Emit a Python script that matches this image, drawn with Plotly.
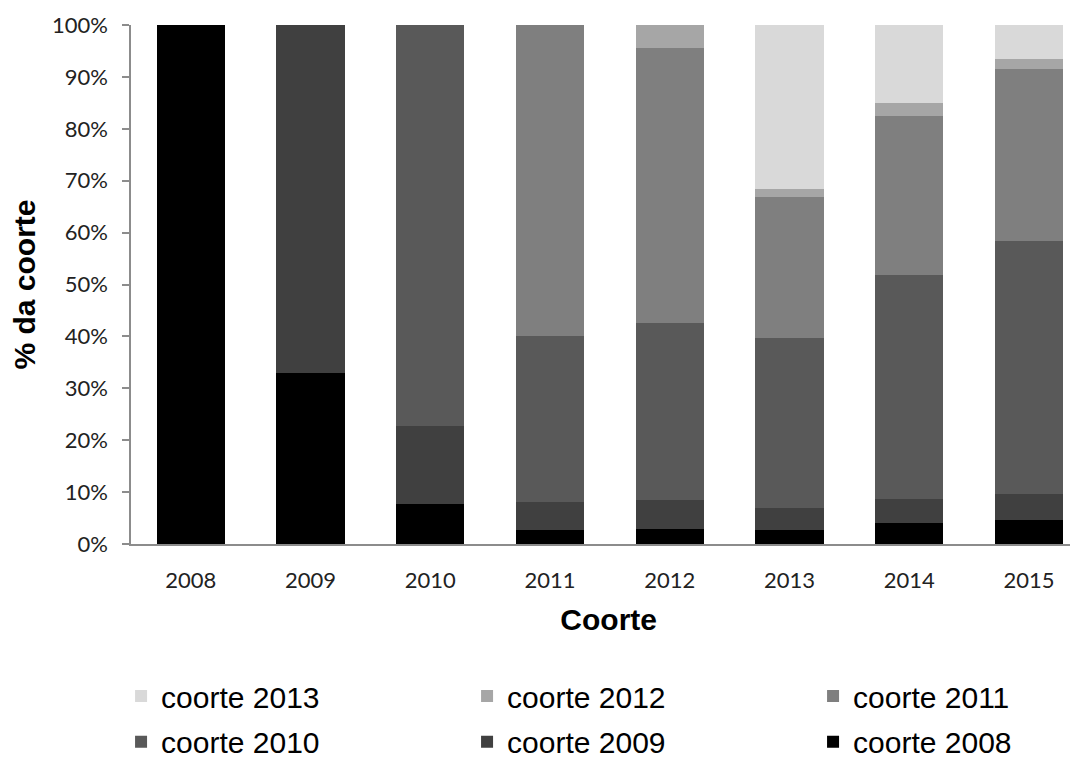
import plotly.graph_objects as go

years = ["2008", "2009", "2010", "2011", "2012", "2013", "2014", "2015"]
series_names = ["coorte 2008", "coorte 2009", "coorte 2010", "coorte 2011", "coorte 2012", "coorte 2013"]

coorte_2008 = [100.0, 32.9, 7.7, 2.7, 2.9, 2.75, 4.1, 4.6]
coorte_2009 = [None, 67.1, 15.0, 5.3, 5.6, 4.25, 4.6, 5.0]
coorte_2010 = [None, None, 77.3, 32.1, 34.0, 32.7, 43.2, 48.8]
coorte_2011 = [None, None, None, 59.9, 53.1, 27.2, 30.6, 33.2]
coorte_2012 = [None, None, None, None, 4.4, 1.5, 2.4, 1.9]
coorte_2013 = [None, None, None, None, None, 31.6, 15.1, 6.5]

y_ticks = [0, 10, 20, 30, 40, 50, 60, 70, 80, 90, 100]
y_tick_labels = [f"{v}%" for v in y_ticks]

colors = ["#000000", "#404040", "#595959", "#7f7f7f", "#a6a6a6", "#d9d9d9"]
all_series = [coorte_2008, coorte_2009, coorte_2010, coorte_2011, coorte_2012, coorte_2013]
legend_of = ["legend2", "legend2", "legend2", "legend", "legend", "legend"]

fig = go.Figure()
for name, vals, col, lg in zip(series_names, all_series, colors, legend_of):
    fig.add_trace(go.Bar(x=years, y=vals, name=name, legend=lg,
                         marker=dict(color=col, line=dict(width=0))))

axis_col = "#8c8c8c"
leg_font = dict(family="Liberation Sans, Arial", size=30, color="#000000")
leg_common = dict(
    orientation="h", traceorder="reversed",
    xanchor="left", yanchor="middle",
    entrywidth=301, entrywidthmode="pixels",
    font=leg_font, bgcolor="rgba(0,0,0,0)",
)
fig.update_layout(
    barmode="stack",
    bargap=0.43,
    width=1070, height=752,
    margin=dict(l=123, r=0, t=17, b=216, autoexpand=False),
    plot_bgcolor="white", paper_bgcolor="white",
    showlegend=True,
    legend=dict(x=-0.0105, y=-0.2929, **leg_common),
    legend2=dict(x=-0.0105, y=-0.381, **leg_common),
    xaxis=dict(
        type="category", range=[-0.5, 7.41],
        showline=True, linecolor=axis_col, linewidth=1.5,
        ticks="", showgrid=False,
        tickfont=dict(family="Lato", size=22, color="#222222"),
        ticklabelstandoff=16,
        title=dict(text="&nbsp;<b>Coorte</b>", font=dict(family="Liberation Sans, Arial", size=30, color="#000000"), standoff=17),
    ),
    yaxis=dict(
        range=[0, 100], tickvals=y_ticks, ticktext=y_tick_labels,
        showline=True, linecolor=axis_col, linewidth=1.5,
        ticks="outside", ticklen=7, tickcolor=axis_col, tickwidth=1.5,
        showgrid=False, zeroline=False,
        tickfont=dict(family="Lato", size=22, color="#222222"),
        ticklabelstandoff=10,
        title=dict(text="<b>% da coorte</b>", font=dict(family="Liberation Sans, Arial", size=30, color="#000000"), standoff=16),
    ),
)

fig.write_html("out.html")
